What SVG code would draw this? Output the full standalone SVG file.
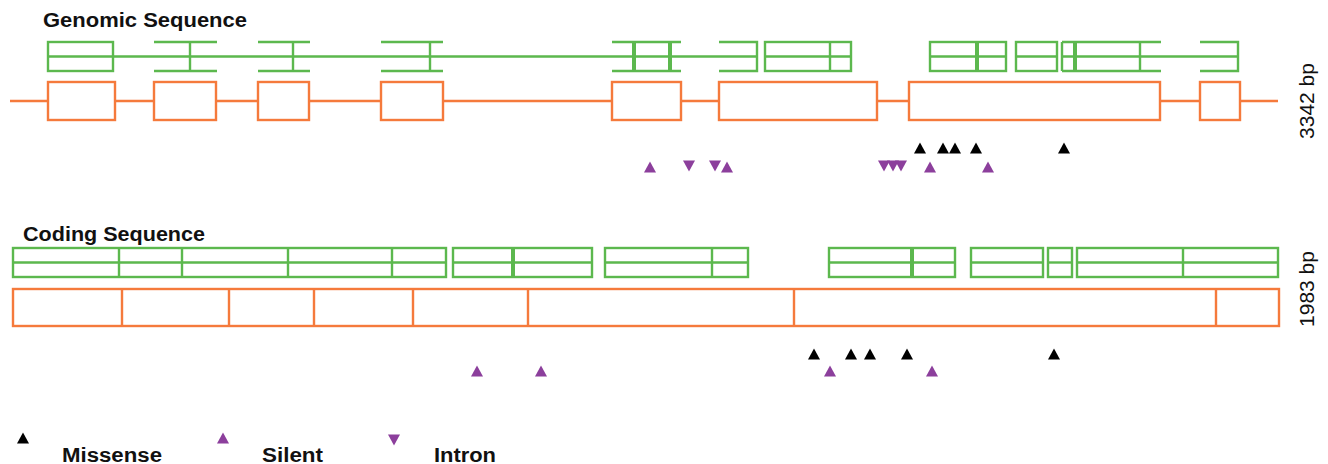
<svg xmlns="http://www.w3.org/2000/svg" xmlns:xlink="http://www.w3.org/1999/xlink" width="1328" height="464" viewBox="0 0 1328 464">
<style>
.g{fill:none;stroke:#5cb84e;stroke-width:2.4}
.gt{fill:none;stroke:#5cb84e;stroke-width:4}
.o{fill:#fff;stroke:#f57a3c;stroke-width:2.4}
.ol{fill:none;stroke:#f57a3c;stroke-width:2.4}
.t{font-family:"Liberation Sans",Arial,sans-serif;font-weight:bold;font-size:20px;fill:#111}
.r{font-family:"Liberation Sans",Arial,sans-serif;font-size:21px;fill:#111}
.mis{fill:#000}
.sil{fill:#8c3f9c}
</style>
<defs>
<path id="up" d="M0,-5.5 L6,5.5 L-6,5.5 Z"/>
<path id="dn" d="M0,5.5 L6,-5.5 L-6,-5.5 Z"/>
</defs>
<rect width="1328" height="464" fill="#fff"/>
<text class="t" x="43" y="27" textLength="204" lengthAdjust="spacingAndGlyphs">Genomic Sequence</text>
<text class="t" x="23" y="241" textLength="182" lengthAdjust="spacingAndGlyphs">Coding Sequence</text>

<g id="genomic-green">
<path class="g" d="M48,56.5H757 M765,56.5H851 M930,56.5H1006 M1016,56.5H1057 M1062,56.5H1238"/>
<rect class="g" x="48" y="42" width="65" height="29"/>
<path class="g" d="M154,42H217 M154,71H217 M190,42V71"/>
<path class="g" d="M258,42H310 M258,71H310 M293,42V71"/>
<path class="g" d="M381,42H443 M381,71H443 M430,42V71"/>
<path class="g" d="M612,42H681 M612,71H681"/>
<path class="gt" d="M634,42V71 M670,42V71"/>
<path class="g" d="M719,42H757V71H719"/>
<rect class="g" x="765" y="42" width="86" height="29"/>
<path class="g" d="M830,42V71"/>
<rect class="g" x="930" y="42" width="76" height="29"/>
<path class="gt" d="M977,42V71"/>
<rect class="g" x="1016" y="42" width="41" height="29"/>
<path class="g" d="M1062,42V71 M1062,42H1161 M1062,71H1161 M1140,42V71"/>
<path class="gt" d="M1075,42V71"/>
<path class="g" d="M1200,42H1238V71H1200"/>
</g>

<g id="genomic-orange">
<path class="ol" d="M10,101H1278"/>
<rect class="o" x="48" y="82" width="67" height="38"/>
<rect class="o" x="154" y="82" width="62" height="38"/>
<rect class="o" x="258" y="82" width="51" height="38"/>
<rect class="o" x="381" y="82" width="62" height="38"/>
<rect class="o" x="612" y="82" width="69" height="38"/>
<rect class="o" x="719" y="82" width="158" height="38"/>
<rect class="o" x="909" y="82" width="251" height="38"/>
<rect class="o" x="1200" y="82" width="40" height="38"/>
</g>

<g id="genomic-markers">
<use href="#up" class="mis" x="920" y="148"/>
<use href="#up" class="mis" x="943" y="148"/>
<use href="#up" class="mis" x="955" y="148"/>
<use href="#up" class="mis" x="976" y="148"/>
<use href="#up" class="mis" x="1064" y="148"/>
<use href="#up" class="sil" x="650" y="167"/>
<use href="#up" class="sil" x="727" y="167"/>
<use href="#up" class="sil" x="930" y="167"/>
<use href="#up" class="sil" x="988" y="167"/>
<use href="#dn" class="sil" x="689" y="166"/>
<use href="#dn" class="sil" x="715" y="166"/>
<use href="#dn" class="sil" x="884" y="166"/>
<use href="#dn" class="sil" x="893" y="166"/>
<use href="#dn" class="sil" x="901" y="166"/>
</g>

<g id="coding-green">
<rect class="g" x="13" y="248" width="433" height="29"/>
<path class="g" d="M13,262.5H446 M119,248V277 M182,248V277 M288,248V277 M392,248V277"/>
<rect class="g" x="453" y="248" width="139" height="29"/>
<path class="g" d="M453,262.5H592"/>
<path class="gt" d="M513,248V277"/>
<rect class="g" x="605" y="248" width="143" height="29"/>
<path class="g" d="M605,262.5H748 M712,248V277"/>
<rect class="g" x="829" y="248" width="126" height="29"/>
<path class="g" d="M829,262.5H955"/>
<path class="gt" d="M912,248V277"/>
<rect class="g" x="971" y="248" width="72" height="29"/>
<path class="g" d="M971,262.5H1043"/>
<rect class="g" x="1048" y="248" width="24" height="29"/>
<path class="g" d="M1048,262.5H1072"/>
<rect class="g" x="1077" y="248" width="201" height="29"/>
<path class="g" d="M1077,262.5H1278 M1183,248V277"/>
</g>

<g id="coding-orange">
<rect class="o" x="13" y="289" width="1266" height="37"/>
<path class="ol" d="M122,289V326 M229,289V326 M314,289V326 M413,289V326 M528,289V326 M794,289V326 M1216,289V326"/>
</g>

<g id="coding-markers">
<use href="#up" class="mis" x="814" y="354"/>
<use href="#up" class="mis" x="851" y="354"/>
<use href="#up" class="mis" x="870" y="354"/>
<use href="#up" class="mis" x="907" y="354"/>
<use href="#up" class="mis" x="1054" y="354"/>
<use href="#up" class="sil" x="477" y="371"/>
<use href="#up" class="sil" x="541" y="371"/>
<use href="#up" class="sil" x="830" y="371"/>
<use href="#up" class="sil" x="932" y="371"/>
</g>

<g id="length-labels">
<text class="r" transform="translate(1314,101) rotate(-90)" text-anchor="middle">3342 bp</text>
<text class="r" transform="translate(1314,289) rotate(-90)" text-anchor="middle">1983 bp</text>
</g>

<g id="legend">
<use href="#up" class="mis" x="23" y="438"/>
<text class="t" x="62" y="462" textLength="100" lengthAdjust="spacingAndGlyphs">Missense</text>
<use href="#up" class="sil" x="223" y="438"/>
<text class="t" x="262" y="462" textLength="61" lengthAdjust="spacingAndGlyphs">Silent</text>
<use href="#dn" class="sil" x="394" y="440"/>
<text class="t" x="434" y="462" textLength="62" lengthAdjust="spacingAndGlyphs">Intron</text>
</g>
</svg>
